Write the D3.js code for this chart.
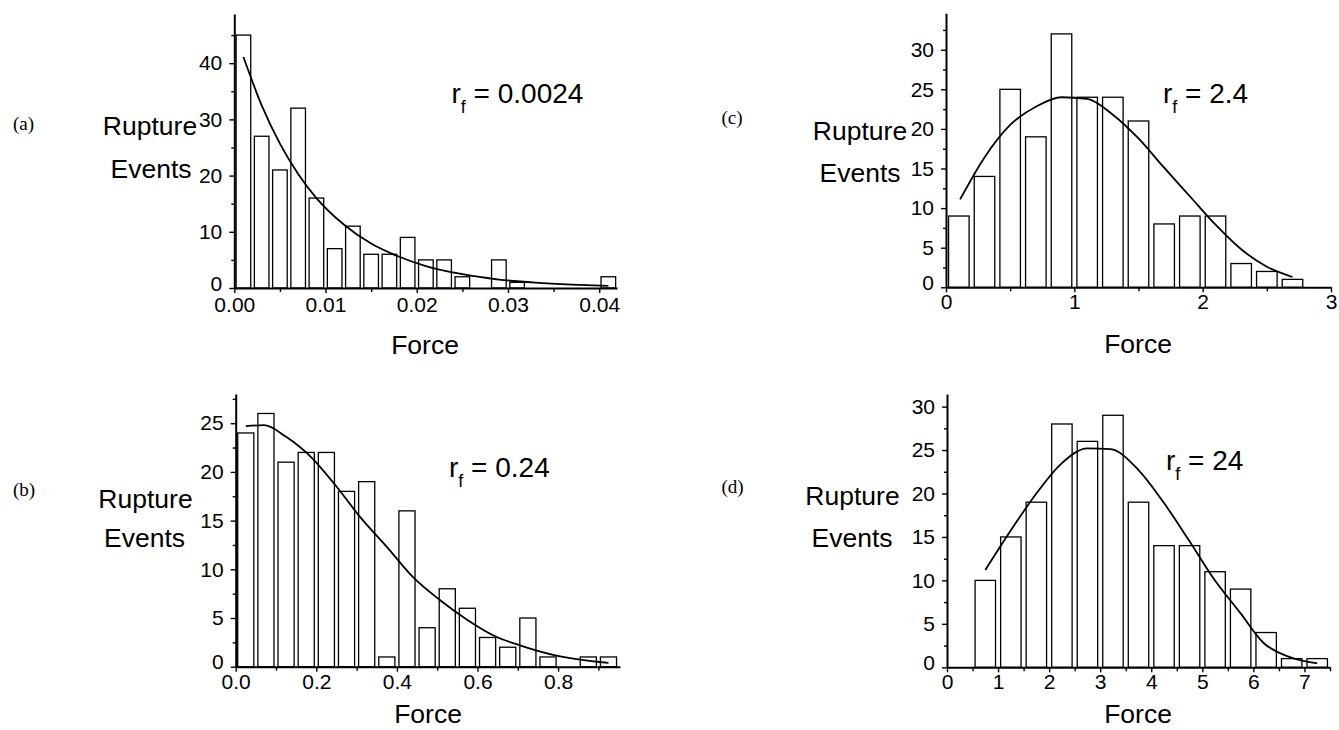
<!DOCTYPE html>
<html>
<head>
<meta charset="utf-8">
<script src="https://cdn.jsdelivr.net/npm/d3@7"></script>
<style>
  html, body { margin: 0; padding: 0; background: #fff; }
  svg { display: block; }
  text { font-family: "Liberation Sans", Arial, Helvetica, sans-serif; fill: #000; }
</style>
</head>
<body>
<script>
// ---------------- DATA ----------------
// Panel (a): r_f = 0.0024
const aBinCenters = [0.001,0.003,0.005,0.007,0.009,0.011,0.013,0.015,0.017,0.019,0.021,0.023,0.025,0.027,0.029,0.031,0.033,0.035,0.037,0.039,0.041];
const aCounts     = [45,27,21,32,16,7,11,6,6,9,5,5,2,0,5,1,0,0,0,0,2];
const aFitX = [0.001,0.003,0.005,0.007,0.009,0.012,0.015,0.018,0.021,0.025,0.029,0.033,0.037,0.041];
const aFitY = [41.1,32.5,25.7,20.3,16.0,11.3,7.9,5.6,3.9,2.45,1.5,0.95,0.6,0.37];
const aXTicks = [0,0.01,0.02,0.03,0.04];
const aYTicks = [0,10,20,30,40];

// Panel (b): r_f = 0.24
const bBinCenters = [0.025,0.075,0.125,0.175,0.225,0.275,0.325,0.375,0.425,0.475,0.525,0.575,0.625,0.675,0.725,0.775,0.825,0.875,0.925];
const bCounts     = [24,26,21,22,22,18,19,1,16,4,8,6,3,2,5,1,0,1,1];
const bFitX = [0.025,0.07,0.125,0.19,0.25,0.31,0.375,0.44,0.505,0.575,0.645,0.705,0.79,0.925];
const bFitY = [24.7,24.8,23.6,21.4,18.5,15.3,12.3,9.2,6.9,4.8,3.1,2.2,1.2,0.4];
const bXTicks = [0,0.2,0.4,0.6,0.8];
const bYTicks = [0,5,10,15,20,25];

// Panel (c): r_f = 2.4
const cBinCenters = [0.1,0.3,0.5,0.7,0.9,1.1,1.3,1.5,1.7,1.9,2.1,2.3,2.5,2.7];
const cCounts     = [9,14,25,19,32,24,24,21,8,9,9,3,2,1];
const cFitX = [0.11,0.3,0.5,0.7,0.9,1.1,1.3,1.5,1.7,1.9,2.1,2.3,2.5,2.7];
const cFitY = [11.1,16.4,20.5,22.8,24.0,23.8,21.8,18.8,15.1,11.5,7.9,4.8,2.6,1.3];
const cXTicks = [0,1,2,3];
const cYTicks = [0,5,10,15,20,25,30];

// Panel (d): r_f = 24
const dBinCenters = [0.75,1.25,1.75,2.25,2.75,3.25,3.75,4.25,4.75,5.25,5.75,6.25,6.75,7.25];
const dCounts     = [10,15,19,28,26,29,19,14,14,11,9,4,1,1];
const dFitX = [0.75,1.3,1.75,2.25,2.75,3.2,3.75,4.25,4.75,5.2,5.75,6.2,6.7,7.25];
const dFitY = [11.2,16.2,20.0,23.5,25.2,25.1,22.7,18.9,14.5,10.4,6.2,2.8,1.2,0.45];
const dXTicks = [0,1,2,3,4,5,6,7];
const dYTicks = [0,5,10,15,20,25,30];

const panelLetters = ["(a)","(b)","(c)","(d)"];
const rfValues = ["0.0024","0.24","2.4","24"];
const binWidths = [0.002,0.05,0.2,0.5];
const yTitle = ["Rupture","Events"];
const xTitle = "Force";

// ---------------- LAYOUT ----------------
const W = 1339, H = 730;
const svg = d3.select("body").append("svg").attr("width", W).attr("height", H);

const panels = [
  { centers: aBinCenters, counts: aCounts, fitX: aFitX, fitY: aFitY, xTicks: aXTicks, yTicks: aYTicks,
    bw: binWidths[0], xFmt: d3.format(".2f"), xPad: 4,
    xDomain: [0, 0.04195], xRange: [234.3, 617], yDomain: [0, 48.75], yRange: [288, 14],
    letter: panelLetters[0], letterPos: [13, 130],
    rf: rfValues[0], rfPos: [451.5, 103],
    titlePos: [[150, 135], [151, 178]], forcePos: [425, 354] },
  { centers: bBinCenters, counts: bCounts, fitX: bFitX, fitY: bFitY, xTicks: bXTicks, yTicks: bYTicks,
    bw: binWidths[1], xFmt: d3.format(".1f"), xPad: 2,
    xDomain: [0, 0.9536], xRange: [235.7, 620], yDomain: [0, 28], yRange: [666.7, 394],
    letter: panelLetters[1], letterPos: [13, 496],
    rf: rfValues[1], rfPos: [449, 476.5],
    titlePos: [[145.5, 508], [144.5, 547]], forcePos: [428, 723] },
  { centers: cBinCenters, counts: cCounts, fitX: cFitX, fitY: cFitY, xTicks: cXTicks, yTicks: cYTicks,
    bw: binWidths[2], xFmt: d3.format("d"), xPad: 2,
    xDomain: [0, 3], xRange: [946, 1331], yDomain: [0, 34.6], yRange: [287.3, 13.3],
    letter: panelLetters[2], letterPos: [721.5, 124],
    rf: rfValues[2], rfPos: [1163, 103],
    titlePos: [[860, 140], [860, 182]], forcePos: [1138, 353] },
  { centers: dBinCenters, counts: dCounts, fitX: dFitX, fitY: dFitY, xTicks: dXTicks, yTicks: dYTicks,
    bw: binWidths[3], xFmt: d3.format("d"), xPad: 2,
    xDomain: [0, 7.5], xRange: [947, 1330], yDomain: [0, 31.45], yRange: [667.3, 394],
    letter: panelLetters[3], letterPos: [721.5, 493],
    rf: rfValues[3], rfPos: [1166, 470],
    titlePos: [[852.5, 505], [852, 547]], forcePos: [1138, 723] }
];

function midpoints(ticks, extraEnd) {
  const m = [];
  for (let i = 0; i < ticks.length - 1; i++) m.push((ticks[i] + ticks[i + 1]) / 2);
  const step = ticks[1] - ticks[0];
  const last = ticks[ticks.length - 1] + step / 2;
  if (last <= extraEnd + 1e-9) m.push(last);
  return m;
}

panels.forEach(p => {
  const g = svg.append("g");
  const x = d3.scaleLinear().domain(p.xDomain).range(p.xRange);
  const y = d3.scaleLinear().domain(p.yDomain).range(p.yRange);

  // bars
  const barData = p.centers.map((c, i) => ({ c: c, n: p.counts[i] })).filter(d => d.n > 0);
  g.selectAll("rect.bar").data(barData).join("rect")
    .attr("class", "bar")
    .attr("x", d => x(d.c - p.bw * 0.4))
    .attr("width", x(p.bw * 0.8) - x(0))
    .attr("y", d => y(d.n))
    .attr("height", d => y(0) - y(d.n))
    .attr("fill", "#fff")
    .attr("stroke", "#000")
    .attr("stroke-width", 1.3);

  // fit curve
  const line = d3.line().x(d => x(d[0])).y(d => y(d[1])).curve(d3.curveMonotoneX);
  g.append("path")
    .datum(p.fitX.map((v, i) => [v, p.fitY[i]]))
    .attr("d", line)
    .attr("fill", "none")
    .attr("stroke", "#000")
    .attr("stroke-width", 1.8);

  // x axis
  const xAxisG = g.append("g").attr("transform", `translate(0,${y(0)})`);
  xAxisG.call(d3.axisBottom(x).tickValues(p.xTicks).tickFormat(p.xFmt).tickSize(5).tickSizeOuter(0).tickPadding(p.xPad));
  const xMinor = g.append("g").attr("transform", `translate(0,${y(0)})`)
    .call(d3.axisBottom(x).tickValues(midpoints(p.xTicks, p.xDomain[1])).tickFormat("").tickSize(4).tickSizeOuter(0));
  xMinor.select(".domain").remove();

  // y axis
  const yAxisG = g.append("g").attr("transform", `translate(${x(0)},0)`);
  yAxisG.call(d3.axisLeft(y).tickValues(p.yTicks).tickFormat(d3.format("d")).tickSize(5).tickSizeOuter(0).tickPadding(7));
  const yMinor = g.append("g").attr("transform", `translate(${x(0)},0)`)
    .call(d3.axisLeft(y).tickValues(midpoints(p.yTicks, p.yDomain[1])).tickFormat("").tickSize(3).tickSizeOuter(0));
  yMinor.select(".domain").remove();

  [xAxisG, yAxisG, xMinor, yMinor].forEach(a => {
    a.selectAll("path,line").attr("stroke", "#000");
    a.select(".domain").attr("stroke-width", 2);
    a.selectAll(".tick line").attr("stroke-width", 1.4);
    a.selectAll("text").style("font-family", '"Liberation Sans", Arial, sans-serif')
      .style("font-size", "21px").attr("fill", "#000");
  });
  // nudge the y "0" label up slightly so it does not collide with the first x label
  yAxisG.selectAll(".tick").filter(d => d === 0).select("text").attr("dy", "0.1em");

  // axis titles
  g.append("text").attr("x", p.titlePos[0][0]).attr("y", p.titlePos[0][1])
    .attr("text-anchor", "middle").style("font-size", "26.5px").text(yTitle[0]);
  g.append("text").attr("x", p.titlePos[1][0]).attr("y", p.titlePos[1][1])
    .attr("text-anchor", "middle").style("font-size", "26.5px").text(yTitle[1]);
  g.append("text").attr("x", p.forcePos[0]).attr("y", p.forcePos[1])
    .attr("text-anchor", "middle").style("font-size", "26.5px").text(xTitle);

  // panel letter
  g.append("text").attr("x", p.letterPos[0]).attr("y", p.letterPos[1])
    .style("font-family", '"Liberation Serif", "Times New Roman", serif')
    .style("font-size", "19px").text(p.letter);

  // r_f annotation
  const t = g.append("text").attr("x", p.rfPos[0]).attr("y", p.rfPos[1])
    .style("font-size", "28px").style("white-space", "pre");
  t.append("tspan").text("r");
  t.append("tspan").attr("dy", 10).style("font-size", "18px").text("f");
  t.append("tspan").attr("dy", -10).text(" = " + p.rf);
});
</script>
</body>
</html>
